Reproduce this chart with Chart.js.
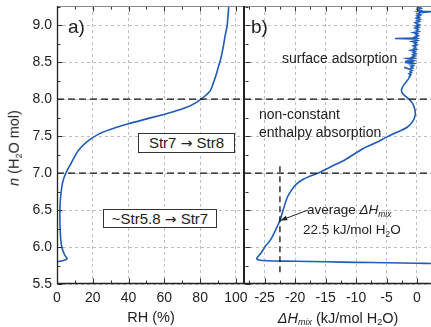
<!DOCTYPE html>
<html>
<head>
<meta charset="utf-8">
<script src="https://cdn.jsdelivr.net/npm/chart.js@4.4.1/dist/chart.umd.min.js"></script>
<style>
html, body { margin: 0; padding: 0; background: #fff; }
#wrap { position: relative; width: 431px; height: 327px; overflow: hidden;
        font-family: "Liberation Sans", Arial, sans-serif; color: #222; }
canvas { position: absolute; top: 0; }
#cA { left: 0; }
#cB { left: 244px; }
.lbl { position: absolute; white-space: nowrap; line-height: 1; }
.box { position: absolute; border: 1px solid #333; background: #fff; text-align: center;
       white-space: nowrap; font-size: 15px; }
.arr { font-family: "DejaVu Sans", sans-serif; font-size: 14px; }
sub { font-size: 0.62em; vertical-align: -0.3em; line-height: 0; }
</style>
</head>
<body>
<div id="wrap">
  <canvas id="cA" width="252" height="327"></canvas>
  <canvas id="cB" width="187" height="327"></canvas>

  <div class="lbl" style="left:68px;top:17px;font-size:19px;">a)</div>
  <div class="lbl" style="left:251px;top:17px;font-size:19px;">b)</div>

  <div class="box" style="left:138px;top:133px;width:95px;height:18px;line-height:18px;">Str7 <span class="arr">&#8594;</span> Str8</div>
  <div class="box" style="left:103px;top:209px;width:112px;height:17px;line-height:17px;">~Str5.8 <span class="arr">&#8594;</span> Str7</div>

  <div class="lbl" style="left:282px;top:51px;font-size:14px;">surface adsorption</div>
  <div class="lbl" style="left:259px;top:107px;font-size:14px;">non-constant</div>
  <div class="lbl" style="left:259px;top:125px;font-size:14px;">enthalpy absorption</div>

  <div class="lbl" style="left:307px;top:203px;font-size:13.5px;">average <i>&#916;H</i><sub><i>mix</i></sub></div>
  <div class="lbl" style="left:303px;top:223px;font-size:13.5px;">22.5 kJ/mol H<sub>2</sub>O</div>

  <div class="lbl" style="left:151px;top:317px;font-size:14.5px;transform:translate(-50%,-50%);">RH (%)</div>
  <div class="lbl" style="left:338px;top:318px;font-size:14.5px;transform:translate(-50%,-50%);"><i>&#916;H</i><sub><i>mix</i></sub> (kJ/mol H<sub>2</sub>O)</div>
  <div class="lbl" style="left:14px;top:148px;font-size:14.5px;transform:translate(-50%,-50%) rotate(-90deg);"><i>n</i> (H<sub>2</sub>O mol)</div>
</div>

<script>
// ===== 데이터 =====

// a) RH 등온선
const rhA = [0, 3.0, 5.6, 4.6, 3.6, 2.7, 2.1, 1.8, 1.6, 1.7, 2.1, 2.8, 3.8, 5.0, 6.4, 8.0,
             9.8, 12.0, 16.5, 23.5, 31, 39, 48, 57.5, 65, 72.5, 77.5, 80.5, 83.5, 85.8,
             87.4, 88.8, 90.0, 91.2, 92.2, 93.0, 93.9, 95.0, 95.4, 95.7, 96.0];
const nA  = [5.80, 5.815, 5.84, 5.88, 5.93, 6.00, 6.10, 6.22, 6.38, 6.55, 6.70, 6.83, 6.93, 7.00, 7.07, 7.14,
             7.22, 7.31, 7.42, 7.53, 7.60, 7.66, 7.72, 7.78, 7.83, 7.89, 7.95, 8.00, 8.06, 8.12,
             8.22, 8.32, 8.42, 8.52, 8.62, 8.72, 8.85, 8.98, 9.08, 9.17, 9.26];

// b) 혼합 엔탈피 (매끄러운 구간)
const dhB = [2.3, 0, -5, -10, -15, -20, -23.5, -25.3, -26.1, -26.3, -25.6, -24.8, -24.1, -23.5, -23.0,
             -22.5, -21.9, -21.3, -20.6, -19.8, -18.8, -17.5, -16.2, -14.3, -11.8, -8.9, -6.8, -4.9,
             -3.1, -1.6, -0.7, -0.3, -0.35, -0.7, -1.2, -1.9, -2.4, -2.55, -2.4, -2.1, -1.7, -1.35];
const nB  = [5.778, 5.781, 5.787, 5.793, 5.800, 5.807, 5.812, 5.818, 5.828, 5.845, 5.92, 6.02, 6.09, 6.18, 6.27,
             6.36, 6.52, 6.67, 6.77, 6.85, 6.91, 6.96, 7.00, 7.08, 7.18, 7.33, 7.41, 7.49,
             7.56, 7.62, 7.70, 7.78, 7.86, 7.94, 7.99, 8.04, 8.08, 8.12, 8.16, 8.20, 8.24, 8.28];

// b) 표면 흡착 구간 (노이즈)
const dhNoise = [-1.35, -1.3, -1.2, -1.0, -1.3, -0.9, -1.1, -0.8, -2.1, -1.2, -0.7, -1.0, -0.6, -1.1, -0.5,
                 -2.0, -0.6, -1.9, -0.5, -0.9, -1.6, -0.4, -0.8, -0.3, -0.7, -0.2, -0.6, -0.3, -1.0,
                 -0.1, -0.5, -0.2, -0.6, 0.0, -0.4, -0.1, -0.8, 0.1, -0.3, -3.6, 0.0, -0.4, 0.2, -0.2,
                 0.1, -0.6, 0.3, -0.1, 0.2, -0.3, 0.3, -0.2, 0.4, 0.0, -0.3, 0.4, 0.0, 0.5, -0.1, 0.4,
                 0.0, 0.6, 0.1, 0.5, 2.4, 0.2, 0.6, 0.1, 0.7, 0.3, 0.6];
const nNoise  = [8.28, 8.30, 8.315, 8.33, 8.345, 8.36, 8.375, 8.39, 8.43, 8.405, 8.42, 8.435, 8.45, 8.465, 8.48,
                 8.495, 8.50, 8.515, 8.52, 8.535, 8.55, 8.555, 8.57, 8.585, 8.60, 8.615, 8.63, 8.645, 8.66,
                 8.675, 8.69, 8.705, 8.72, 8.735, 8.75, 8.765, 8.78, 8.795, 8.81, 8.82, 8.825, 8.84, 8.855, 8.87,
                 8.885, 8.90, 8.915, 8.93, 8.945, 8.96, 8.975, 8.99, 9.005, 9.02, 9.035, 9.05, 9.065, 9.08, 9.095, 9.11,
                 9.125, 9.14, 9.155, 9.17, 9.185, 9.19, 9.20, 9.215, 9.23, 9.245, 9.26];

// 기준선 / 주석
const levelN = [7.0, 8.0];
const avgDH = -22.5;
const avgSpanN = [5.66, 7.1];
const arrowFrom = [-17.9, 6.50];
const arrowTo = [-22.4, 6.36];

// 눈금
const yTicks = [5.5, 6.0, 6.5, 7.0, 7.5, 8.0, 8.5, 9.0];
const xTicksA = [0, 20, 40, 60, 80, 100];
const xTicksB = [-25, -20, -15, -10, -5, 0];
const xRangeA = [0, 104.5];
const xRangeB = [-28.4, 2.3];
const yRange = [5.5, 9.26];

// ===== 스타일 =====
const FONT = '"Liberation Sans", Arial, sans-serif';
const BLUE = '#1f5cb6';
const GRID = '#bfbfbf';
Chart.defaults.font.family = FONT;

const toXY = (xs, ys) => xs.map((v, i) => ({x: v, y: ys[i]}));

function levelSets(range) {
    return levelN.map(l => ({
        data: [{x: range[0], y: l}, {x: range[1], y: l}],
        borderColor: '#111', borderWidth: 1.4, borderDash: [7, 4],
        pointRadius: 0, tension: 0, order: 0
    }));
}

function curve(xs, ys, tension) {
    return {
        data: toXY(xs, ys), borderColor: BLUE, borderWidth: 1.6,
        pointRadius: 0, tension: tension, order: 1
    };
}

// ===== 축 프레임 + 안쪽 눈금 플러그인 =====
const frame = {
    id: 'frame',
    afterDatasetsDraw(chart, args, o) {
        const {ctx, chartArea: a, scales: {x, y}} = chart;
        const L = Math.round(a.left) + 0.5;
        const T = Math.round(a.top) + 0.5, B = Math.round(a.bottom) - 0.5;
        const xMaj = x.ticks.map(t => t.value), yMaj = y.ticks.map(t => t.value);
        const xs = xMaj[1] - xMaj[0], ys = yMaj[1] - yMaj[0];
        const xMin = xMaj.map(v => v - xs / 2).concat([xMaj[xMaj.length - 1] + xs / 2])
            .filter(v => v > x.min && v < x.max);
        const yMin = yMaj.map(v => v + ys / 2).filter(v => v > y.min && v < y.max);

        ctx.save();
        ctx.strokeStyle = '#333';
        ctx.lineWidth = 1;
        ctx.beginPath();
        xMaj.forEach(v => {
            const p = Math.round(x.getPixelForValue(v)) + 0.5;
            ctx.moveTo(p, B); ctx.lineTo(p, B - 5);
            ctx.moveTo(p, T); ctx.lineTo(p, T + 5);
        });
        xMin.forEach(v => {
            const p = Math.round(x.getPixelForValue(v)) + 0.5;
            ctx.moveTo(p, B); ctx.lineTo(p, B - 3);
            ctx.moveTo(p, T); ctx.lineTo(p, T + 3);
        });
        const lx = o.tickX === 'left' ? L : L + 1;
        yMaj.forEach(v => {
            const p = Math.round(y.getPixelForValue(v)) + 0.5;
            ctx.moveTo(lx, p); ctx.lineTo(lx + 5, p);
        });
        yMin.forEach(v => {
            const p = Math.round(y.getPixelForValue(v)) + 0.5;
            ctx.moveTo(lx, p); ctx.lineTo(lx + 3, p);
        });
        ctx.stroke();

        // 위 테두리
        ctx.strokeStyle = '#8a8a8a';
        ctx.beginPath(); ctx.moveTo(a.left, T); ctx.lineTo(a.right, T); ctx.stroke();

        // 아래 / 왼쪽 축
        ctx.strokeStyle = '#222';
        ctx.lineWidth = 1.3;
        ctx.beginPath(); ctx.moveTo(a.left, B); ctx.lineTo(a.right, B); ctx.stroke();
        if (o.leftAxis) {
            ctx.beginPath(); ctx.moveTo(L, a.top); ctx.lineTo(L, a.bottom); ctx.stroke();
        }
        // 패널 구분선
        ctx.lineWidth = 2;
        const sx = o.sep === 'right' ? Math.round(a.right) : Math.round(a.left);
        ctx.beginPath(); ctx.moveTo(sx, a.top); ctx.lineTo(sx, a.bottom); ctx.stroke();
        ctx.restore();
    }
};

// 화살표 (평균 ΔHmix)
const arrow = {
    id: 'arrow',
    afterDatasetsDraw(chart) {
        const {ctx, scales: {x, y}} = chart;
        const x1 = x.getPixelForValue(arrowFrom[0]), y1 = y.getPixelForValue(arrowFrom[1]);
        const x2 = x.getPixelForValue(arrowTo[0]), y2 = y.getPixelForValue(arrowTo[1]);
        const ang = Math.atan2(y2 - y1, x2 - x1);
        ctx.save();
        ctx.strokeStyle = '#222'; ctx.fillStyle = '#222'; ctx.lineWidth = 1;
        ctx.beginPath(); ctx.moveTo(x1, y1); ctx.lineTo(x2, y2); ctx.stroke();
        ctx.beginPath();
        ctx.moveTo(x2, y2);
        ctx.lineTo(x2 - 7 * Math.cos(ang - 0.35), y2 - 7 * Math.sin(ang - 0.35));
        ctx.lineTo(x2 - 7 * Math.cos(ang + 0.35), y2 - 7 * Math.sin(ang + 0.35));
        ctx.closePath(); ctx.fill();
        ctx.restore();
    }
};

function xScale(range, ticks) {
    return {
        type: 'linear', min: range[0], max: range[1],
        afterBuildTicks: s => { s.ticks = ticks.map(v => ({value: v})); },
        afterFit: s => { s.height = 43; s.paddingLeft = 0; s.paddingRight = 0; },
        ticks: {color: '#222', font: {size: 14}, padding: 6, maxRotation: 0, autoSkip: false},
        grid: {color: GRID, lineWidth: 1, drawTicks: false},
        border: {display: false, dash: [3, 3]}
    };
}

function yScale(width, showLabels) {
    return {
        type: 'linear', min: yRange[0], max: yRange[1],
        afterBuildTicks: s => { s.ticks = yTicks.map(v => ({value: v})); },
        afterFit: s => { s.width = width; s.paddingTop = 0; s.paddingBottom = 0; },
        ticks: {display: showLabels, color: '#222', font: {size: 14}, padding: 5,
                callback: v => v.toFixed(1)},
        grid: {color: GRID, lineWidth: 1, drawTicks: false},
        border: {display: false, dash: [3, 3]}
    };
}

const common = {
    responsive: false,
    animation: false,
    plugins: {legend: {display: false}, tooltip: {enabled: false}}
};

// 패널 a
new Chart(document.getElementById('cA'), {
    type: 'line',
    data: {datasets: [curve(rhA, nA, 0.3), ...levelSets(xRangeA)]},
    options: {
        ...common,
        layout: {padding: {top: 6, right: 8, left: 0, bottom: 0}},
        scales: {x: xScale(xRangeA, xTicksA), y: yScale(57, true)},
        plugins: {...common.plugins, frame: {leftAxis: true, sep: 'right', tickX: 'left'}}
    },
    plugins: [frame]
});

// 패널 b
new Chart(document.getElementById('cB'), {
    type: 'line',
    data: {
        datasets: [
            curve(dhB, nB, 0.3),
            curve(dhNoise, nNoise, 0),
            ...levelSets(xRangeB),
            {
                data: avgSpanN.map(v => ({x: avgDH, y: v})),
                borderColor: '#111', borderWidth: 1.3, borderDash: [6, 4],
                pointRadius: 0, order: 0
            }
        ]
    },
    options: {
        ...common,
        layout: {padding: {top: 6, right: 0, left: 0, bottom: 0}},
        scales: {x: xScale(xRangeB, xTicksB), y: yScale(0, false)},
        plugins: {...common.plugins, frame: {leftAxis: false, sep: 'left', tickX: 'sep'}}
    },
    plugins: [frame, arrow]
});
</script>
</body>
</html>
